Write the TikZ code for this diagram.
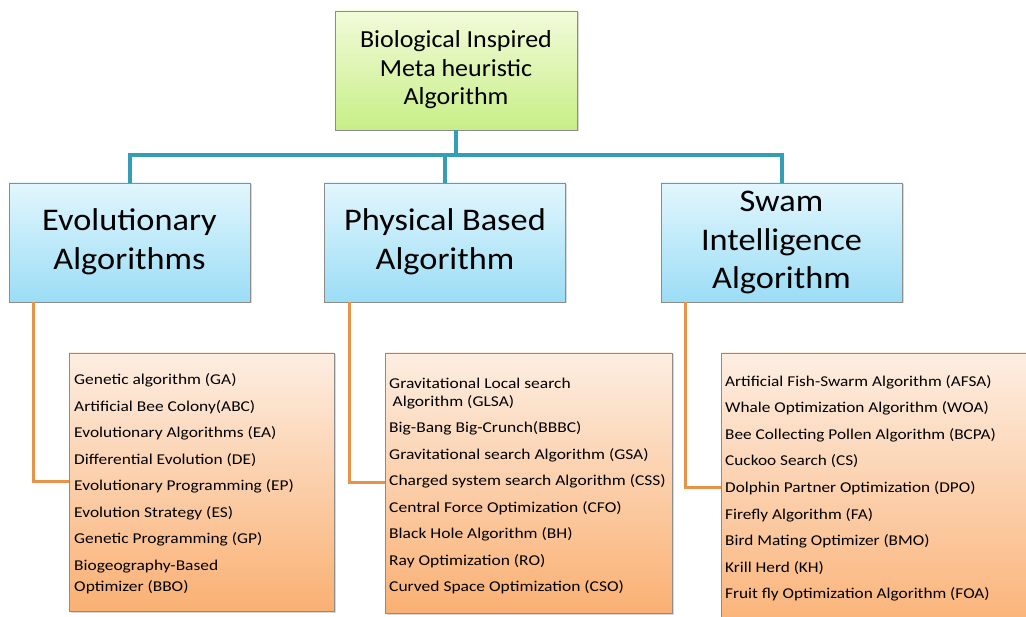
\documentclass[tikz,border=0pt]{standalone}
\usepackage{fontspec}
\usepackage{graphicx}
\setmainfont{Carlito}
\usetikzlibrary{shadows}
\definecolor{greentop}{RGB}{242,251,218}
\definecolor{greenbot}{RGB}{200,238,135}
\definecolor{bluetop}{RGB}{226,246,253}
\definecolor{bluebot}{RGB}{155,221,246}
\definecolor{orangetop}{RGB}{253,238,226}
\definecolor{orangebot}{RGB}{250,176,115}
\definecolor{boxborder}{RGB}{140,140,140}
\definecolor{bluelink}{RGB}{52,158,182}
\definecolor{orangelink}{RGB}{232,146,74}
\newcommand{\stretchedlines}[3]{\raisebox{#2}{\scalebox{#1}[1]{\begin{tabular}{@{}c@{}}#3\end{tabular}}}}
\tikzset{
 box/.style={draw=boxborder, line width=0.8pt, inner sep=0pt, align=center,
   drop shadow={shadow xshift=1.5pt, shadow yshift=-1.5pt, opacity=0.3}},
 rootbox/.style={box, top color=greentop, bottom color=greenbot, minimum width=242pt,
   minimum height=119pt, font=\fontsize{24.5}{28.5}\selectfont},
 catbox/.style={box, top color=bluetop, bottom color=bluebot, minimum width=241pt,
   minimum height=119pt, font=\fontsize{31.5}{38.5}\selectfont},
 listbox/.style={box, top color=orangetop, bottom color=orangebot},
 listtext/.style={anchor=north west, inner sep=0pt, align=left, font=\fontsize{15}{18}\selectfont,
   transform shape},
 bluecon/.style={draw=bluelink, line width=4pt},
 orangecon/.style={draw=orangelink, line width=3pt},
}
\begin{document}
\begin{tikzpicture}[x=1pt,y=-1pt]
\clip (0,0) rectangle (1026,617);
\fill[white] (0,0) rectangle (1026,617);

\node[rootbox] (root) at (456,70.5) {\stretchedlines{1.06}{-2.5pt}{Biological Inspired\\Meta heuristic\\Algorithm}};
\node[catbox] (evo) at (129.5,242.5) {\stretchedlines{1.09}{-2.5pt}{Evolutionary\\Algorithms}};
\node[catbox] (phys) at (445,242.5) {\stretchedlines{1.09}{-2.5pt}{Physical Based\\Algorithm}};
\node[catbox] (swarm) at (781.5,242.5) {\stretchedlines{1.09}{-3.5pt}{Swam\\Intelligence\\Algorithm}};

\node[listbox, minimum width=265pt, minimum height=258pt] (evolist) at (201.5,482) {};
\node[listbox, minimum width=287pt, minimum height=260pt] (physlist) at (528.5,483) {};
\node[listbox, minimum width=319pt, minimum height=287pt] (swlist) at (880.5,496.5) {};

\node[listtext, xscale=1.16] (evotext) at (74,373.5) {Genetic algorithm (GA)\\[8.5pt]
Artificial Bee Colony(ABC)\\[8.5pt]
Evolutionary Algorithms (EA)\\[8.5pt]
Differential Evolution (DE)\\[8.5pt]
Evolutionary Programming (EP)\\[8.5pt]
Evolution Strategy (ES)\\[8.5pt]
Genetic Programming (GP)\\[8.5pt]
Biogeography-Based\\[3pt]
Optimizer (BBO)};

\node[listtext, xscale=1.165] (phystext) at (389,377.5) {Gravitational Local search\\
\hspace{3pt}Algorithm (GLSA)\\[8.5pt]
Big-Bang Big-Crunch(BBBC)\\[8.5pt]
Gravitational search Algorithm (GSA)\\[8.5pt]
Charged system search Algorithm (CSS)\\[8.5pt]
Central Force Optimization (CFO)\\[8.5pt]
Black Hole Algorithm (BH)\\[8.5pt]
Ray Optimization (RO)\\[8.5pt]
Curved Space Optimization (CSO)};

\node[listtext, xscale=1.15] (swtext) at (725,375) {Artificial Fish-Swarm Algorithm (AFSA)\\[8.6pt]
Whale Optimization Algorithm (WOA)\\[8.6pt]
Bee Collecting Pollen Algorithm (BCPA)\\[8.6pt]
Cuckoo Search (CS)\\[8.6pt]
Dolphin Partner Optimization (DPO)\\[8.6pt]
Firefly Algorithm (FA)\\[8.6pt]
Bird Mating Optimizer (BMO)\\[8.6pt]
Krill Herd (KH)\\[8.6pt]
Fruit fly Optimization Algorithm (FOA)};

\draw[bluecon] (root.south) -- ++(0,25) -| (evo.north);
\draw[bluecon] (root.south) -- ++(0,25) -| (phys.north);
\draw[bluecon] (root.south) -- ++(0,25) -| (swarm.north);

\draw[orangecon] ([xshift=-96pt]evo.south) |- (evolist.west);
\draw[orangecon] ([xshift=-96pt]phys.south) |- (physlist.west);
\draw[orangecon] ([xshift=-96pt]swarm.south) |- ([yshift=9pt]swlist.west);
\end{tikzpicture}
\end{document}
